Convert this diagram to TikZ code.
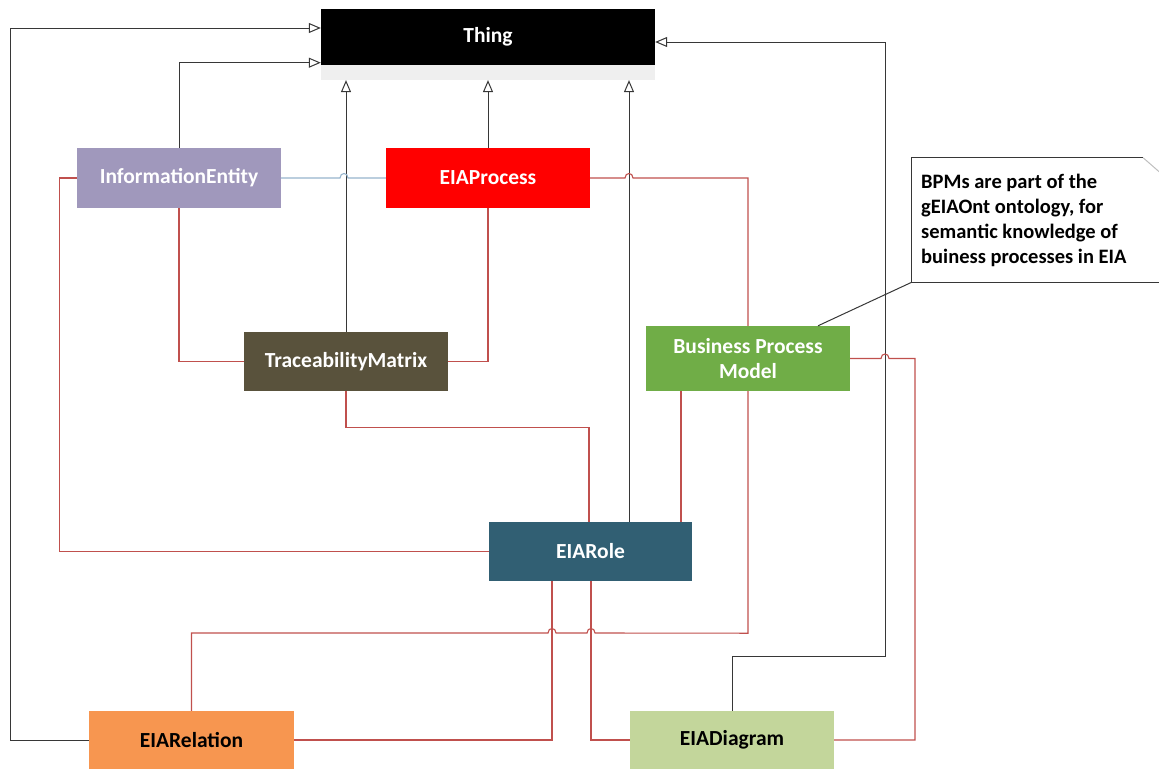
\documentclass[tikz,border=0pt]{standalone}
\usepackage{fontspec}
\setmainfont{Carlito}
\usetikzlibrary{arrows.meta,calc}
\definecolor{genline}{RGB}{55,55,55}
\definecolor{assocline}{RGB}{192,80,77}
\definecolor{softline}{RGB}{150,180,205}
\definecolor{ieFill}{RGB}{160,152,188}
\definecolor{procFill}{RGB}{255,0,0}
\definecolor{tmFill}{RGB}{89,82,60}
\definecolor{bpmFill}{RGB}{112,173,71}
\definecolor{roleFill}{RGB}{49,95,115}
\definecolor{relFill}{RGB}{247,150,80}
\definecolor{diaFill}{RGB}{195,214,155}
\definecolor{bandFill}{RGB}{239,239,239}
\begin{document}
\begin{tikzpicture}[x=1pt,y=-1pt,
  box/.style={rectangle, minimum width=204pt, minimum height=60pt, inner sep=0pt,
    font=\bfseries\fontsize{21.5}{25}\selectfont, text=white, align=center},
  gen/.style={draw=genline, line width=1pt, -{Triangle[length=12pt,width=10pt,fill=white]}},
  assoc/.style={draw=assocline, line width=1.1pt},
  soft/.style={draw=softline, line width=1.1pt},
  leader/.style={draw=genline, line width=1pt},
  notebox/.style={rectangle, minimum width=247pt, minimum height=124pt, inner sep=0pt},
  notetext/.style={inner sep=0pt, align=left, anchor=west,
    font=\bfseries\fontsize{20.5}{25}\selectfont, text=black}]
\useasboundingbox (0,0) rectangle (1159,769);

% classes
\node[box, fill=black, minimum width=334pt, minimum height=56pt] (thing) at (488,36.5) {Thing};
\node[rectangle, fill=bandFill, minimum width=334pt, minimum height=15pt, inner sep=0pt, anchor=north] (band) at (thing.south) {};
\node[box, fill=ieFill] (ie) at (179,178) {InformationEntity};
\node[box, fill=procFill] (proc) at (488,178) {EIAProcess};
\node[box, fill=tmFill, minimum height=59pt] (tm) at (346,361.5) {TraceabilityMatrix};
\node[box, fill=bpmFill, minimum height=65pt] (bpm) at (748,358.5) {Business Process\\Model};
\node[box, fill=roleFill, minimum width=203pt, minimum height=59pt] (role) at (590.5,551.5) {EIARole};
\node[box, fill=relFill, minimum width=205pt, minimum height=58pt, text=black] (rel) at (191.5,740) {EIARelation};
\node[box, fill=diaFill, minimum height=58pt, text=black] (dia) at (732,740) {EIADiagram};

% note with folded corner
\node[notebox] (note) at (1035.5,220) {};
\node[notetext] (notetxt) at (921,220) {BPMs are part of the\\gEIAOnt ontology, for\\semantic knowledge of\\buiness processes in EIA};
\draw[draw=genline, line width=1pt] (note.south west) -- (note.north west) -- ([xshift=-16pt]note.north east);
\draw[draw=black!25, line width=1pt] ([xshift=-16pt]note.north east) -- ([yshift=-14pt]note.north east);
\draw[draw=genline, line width=1pt] ([yshift=-14pt]note.north east) -- (note.south east) -- (note.south west);
\draw[leader] ([xshift=70pt]bpm.north) -- (note.south west);

% attachment points along box edges
\coordinate (rtop) at ([xshift=38.5pt]role.north);
\coordinate (rtm) at ([xshift=-1.5pt]role.north);
\coordinate (rb1) at ([xshift=-38.5pt]role.south);
\coordinate (rb2) at ([xshift=0.5pt]role.south);
\coordinate (bl) at ([xshift=-67pt]bpm.south);

% subclass links to Thing
\draw[gen] (rel.west) -- (10,740) |- ([yshift=8.5pt]thing.west);
\draw[gen] (ie.north) |- ([yshift=2pt]thing.south west);
\draw[gen] (tm.north) -- (tm.north |- band.south);
\draw[gen] (proc.north) -- (proc.north |- band.south);
\draw[gen] (rtop) -- (rtop |- band.south);
\draw[gen] (dia.north) -- ++(0,-54) -| (885,42) -- ([yshift=-5.5pt]thing.east);

% associations
\draw[soft] (ie.east) -- (340,178) .. controls +(0,-6) and +(0,-6) .. (348,178) -- (proc.west);
\draw[assoc] (ie.west) -- ++(-17,0) |- (role.west);
\draw[assoc] (ie.south) |- (tm.west);
\draw[assoc] (proc.south) |- (tm.east);
\draw[assoc] (proc.east) -- (625,178) .. controls +(0,-6) and +(0,-6) .. (633,178) -- (748,178) -- (bpm.north);
\draw[assoc] (bpm.south) -- ++(0,242) -- (595,633) .. controls +(0,-6) and +(0,-6) .. (587,633)
  -- (556,633) .. controls +(0,-6) and +(0,-6) .. (548,633) -| (rel.north);
\draw[assoc] (bl) -- (bl |- role.north);
\draw[assoc] (tm.south) -- ++(0,36) -| (rtm);
\draw[assoc] (rb1) |- (rel.east);
\draw[assoc] (rb2) |- (dia.west);
\draw[assoc] (bpm.east) -- (881,358.5) .. controls +(0,-6) and +(0,-6) .. (889,358.5) -- (915,358.5) |- (dia.east);
\end{tikzpicture}
\end{document}
